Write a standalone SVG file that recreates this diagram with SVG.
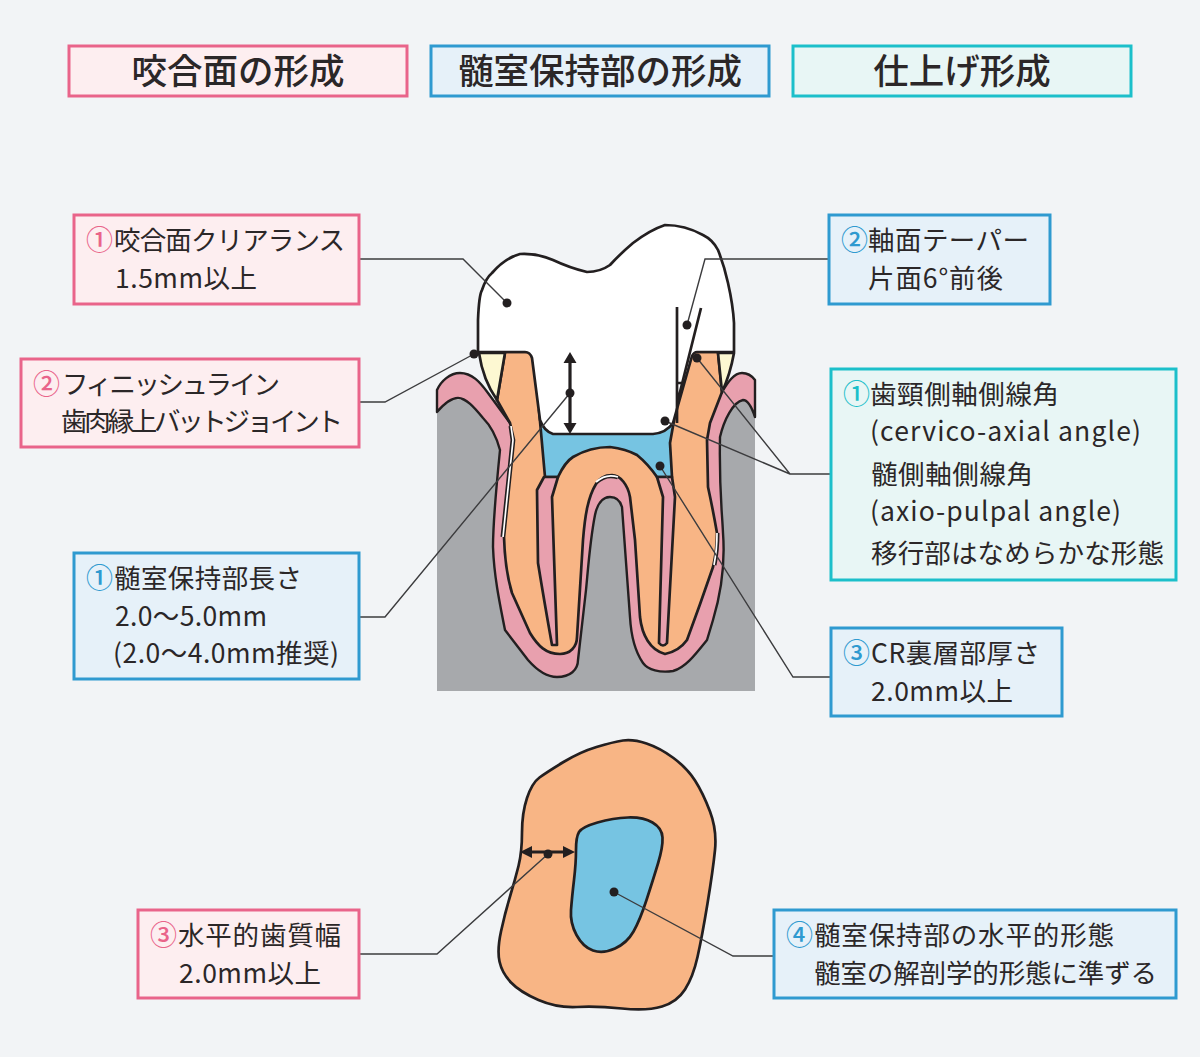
<svg xmlns="http://www.w3.org/2000/svg" width="1200" height="1057" viewBox="0 0 1200 1057">
<style>
text{font-family:"Noto Sans CJK JP","Noto Sans",sans-serif;fill:#2b2728}
.t{font-size:35.5px;font-weight:500;text-anchor:middle}
.l{font-size:26.5px}
.n{font-size:27px;font-weight:500}
.pk{fill:#e9648a}.bl{fill:#2f9ad0}.te{fill:#1cbfca}
.bp{fill:#fdeef0;stroke:#e9648a;stroke-width:3}
.bb{fill:#e6f1f9;stroke:#2f9ad0;stroke-width:3}
.bt{fill:#e8f6f5;stroke:#1cbfca;stroke-width:3}
.o{stroke:#231f20;stroke-width:2.7;stroke-linejoin:round;fill:none}
.ld{fill:none;stroke:#3c3c3e;stroke-width:1.4}
.dot{fill:#231f20}
</style>
<rect width="1200" height="1057" fill="#f2f4f6"/>
<g id="title-occlusal"><rect class="bp" x="69" y="46" width="338" height="50"/><text class="t" x="238" y="84">咬合面の形成</text></g>
<g id="title-pulp"><rect class="bb" x="431" y="46" width="338" height="50"/><text class="t" x="600" y="84">髄室保持部の形成</text></g>
<g id="title-finish"><rect class="bt" x="793" y="46" width="338" height="50"/><text class="t" x="962" y="84">仕上げ形成</text></g>

<g id="tooth-section">
<rect x="437" y="400" width="318" height="291" fill="#a7a9ac"/>
<path id="gum" d="M437,412 L437,390 C441,381 450,373 460,373 C472,373 480,382 488,393 L510,423 L700,423 L722,392 C728,382 734,373 742,373 C748,373 752,376 755,380 L755,417 C752,408 748,400 743,400 C733,402 724,420 720,437 C719,490 722,510 723,533 C725,560 722,590 713,620 L707,640 C695,655 685,668 673,671 C660,673 648,670 643,663 C634,650 631,635 630,617 L622,507 C620,500 616,497 610,497 C602,497 597,505 595,515 C590,540 588,570 586,590 L578,660 C578,670 570,677 557,677 C545,677 535,668 528,660 L505,630 C499,600 494,575 493,547 C493,520 497,480 500,450 C496,435 490,425 483,418 C474,407 466,398 458,398 C450,398 443,405 437,412Z" fill="#e8a0ae" stroke="#231f20" stroke-width="2.4" stroke-linejoin="round"/>
<path id="pdl-gap" fill="none" stroke="#231f20" stroke-width="5" d="M511,426 L513,440 Q508,490 503,537 M714,565 Q717,550 717,533 M596,482 Q606,473 618,477"/>
<path id="dentin" class="o" style="fill:#f8b585" d="M505,352 L497,400 L510,423 L514,440 Q509,490 504,537 Q505,570 512,593 L530,633 C538,646 546,654 560,654 C570,654 577,647 577,637 L583,540 C585,515 588,497 596,484 C600,477 606,475 612,475 C620,475 628,485 630,497 L635,540 L640,617 C642,635 650,650 665,654 C675,652 682,647 687,640 Q700,605 713,567 Q717,550 717,533 Q713,510 708,487 L707,440 L710,423 L722,392 L718,352Z"/>
<path fill="none" stroke="#fff" stroke-width="1.7" d="M511,426 L513,440 Q508,490 503,537 M714,565 Q717,550 717,533 M596,482 Q606,473 618,477"/>
<path id="pulp-chamber" class="o" style="fill:#76c4e2" d="M539,410 L545,477 L558,477 Q565,462 573,457 Q590,447 610,447 Q626,449 637,455 Q648,464 657,477 L672,477 L670,443 L675,415 L610,400Z"/>
<path id="pulp-left" class="o" style="fill:#e8a0ae" d="M544,477 L558,477 L552,497 L557,645 L552,645 Q544,600 538,563 L537,490Z"/>
<path id="pulp-right" class="o" style="fill:#e8a0ae" d="M657,477 L672,477 L675,497 L667,643 Q663,648 659,643 L663,497Z"/>
<path id="crown" class="o" style="fill:#ffffff" d="M478,352 L478,320 Q479,295 482,290 Q486,278 492,273 Q505,258 520,254 Q537,253 553,260 Q570,268 587,272 Q600,272 610,265 Q620,254 633,243 Q650,230 665,225 Q685,225 703,235 Q713,240 718,250 Q724,265 728,283 Q733,305 734,323 L734,352 L697,352 Q694,352 692,356 L673,423 Q666,433 653,434 L553,434 Q544,431 540,420 L532,358 Q530,352 525,352Z"/>
<path id="enamel-left" class="o" style="fill:#fdf8d2" d="M479,353 L505,353 L497,400 Q483,380 479,353Z"/>
<path id="enamel-right" class="o" style="fill:#fdf8d2" d="M718,353 L734,353 Q730,375 722,392Z"/>
<path class="o" d="M677,307 L677,423 M701,308 L678,400 M677,383 L684,383"/>
<path class="o" d="M570,360 L570,426" style="stroke-width:3.2"/>
<path class="dot" d="M570,352 L576.5,363 L563.5,363Z M570,434 L576.5,423 L563.5,423Z"/>
</g>

<g id="occlusal-section">
<path class="o" style="fill:#f8b585" d="M522,832.5 Q522,813 527,798 Q532,783 539.5,777.5 Q547,772 563.5,762 Q580,752 596.5,747 Q613,742 623,740.5 Q633,739 646.5,743.5 Q660,748 673.5,758 Q687,768 695,780.5 Q703,793 710,811.5 Q717,830 715,850 Q713,870 707.5,903.5 Q702,937 697.5,957 Q693,977 685,989.5 Q677,1002 662,1006.5 Q647,1011 622,1008.5 Q597,1006 577,1007 Q557,1008 538.5,1000 Q520,992 511,982.5 Q502,973 499.5,961.5 Q497,950 501,931.5 Q505,913 510,896.5 Q515,880 518.5,866 Q522,852 522,832.5Z"/>
<path class="o" style="fill:#76c4e2" d="M576,850 Q576,837 579,832 Q582,827 597.5,822.5 Q613,818 628,817.5 Q643,817 652.5,822.5 Q662,828 662.5,837.5 Q663,847 658,863.5 Q653,880 646.5,900 Q640,920 633.5,931.5 Q627,943 615,948.5 Q603,954 593,950.5 Q583,947 576.5,935 Q570,923 571,910 Q572,897 574,880 Q576,863 576,850Z"/>
<path class="o" d="M530,852 L567,852" style="stroke-width:3.2"/>
<path class="dot" d="M520,852 L532,846 L532,858Z M575,852 L563,846 L563,858Z"/>
</g>

<g id="connectors">
<path class="ld" d="M360,259 L463,259 L507,303"/>
<path class="ld" d="M360,402 L385,402 L474,354"/>
<path class="ld" d="M360,617 L385,617 L570,393"/>
<path class="ld" d="M828,259 L705,259 L687,325"/>
<path class="ld" d="M830,474 L790,474 L697,358 M790,474 L665,421"/>
<path class="ld" d="M830,677 L793,677 L660,466"/>
<path class="ld" d="M360,954 L437,954 L548,854"/>
<path class="ld" d="M773,956 L733,956 L614,892"/>
<g class="dot"><circle cx="507" cy="303" r="4.5"/><circle cx="474" cy="354" r="4.5"/><circle cx="570" cy="393" r="4.5"/><circle cx="687" cy="325" r="4.5"/><circle cx="697" cy="358" r="4.5"/><circle cx="665" cy="421" r="4.5"/><circle cx="660" cy="466" r="4.5"/><circle cx="548" cy="854" r="4.5"/><circle cx="614" cy="892" r="4.5"/></g>
</g>

<g id="label-clearance"><rect class="bp" x="74" y="215" width="285" height="89"/>
<text class="n pk" x="86" y="250">①</text><text class="l" x="114" y="250" textLength="231">咬合面クリアランス</text><text class="l" x="115" y="288" textLength="142">1.5mm以上</text></g>
<g id="label-finish-line"><rect class="bp" x="21" y="359" width="338" height="88"/>
<text class="n pk" x="33" y="394">②</text><text class="l" x="62" y="394" textLength="218">フィニッシュライン</text><text class="l" x="61" y="431" textLength="282">歯肉縁上バットジョイント</text></g>
<g id="label-length"><rect class="bb" x="74" y="553" width="285" height="126"/>
<text class="n bl" x="86" y="588">①</text><text class="l" x="114" y="588" textLength="188">髄室保持部長さ</text><text class="l" x="115" y="626" textLength="152">2.0〜5.0mm</text><text class="l" x="113" y="663" textLength="226">(2.0〜4.0mm推奨)</text></g>
<g id="label-taper"><rect class="bb" x="829" y="215" width="221" height="89"/>
<text class="n bl" x="841" y="250">②</text><text class="l" x="868" y="250" textLength="161">軸面テーパー</text><text class="l" x="868" y="288" textLength="135">片面6°前後</text></g>
<g id="label-angle"><rect class="bt" x="831" y="369" width="345" height="211"/>
<text class="n te" x="843" y="404">①</text><text class="l" x="870" y="404" textLength="189">歯頸側軸側線角</text><text class="l" x="870" y="441" textLength="271">(cervico-axial angle)</text><text class="l" x="871" y="484" textLength="162">髄側軸側線角</text><text class="l" x="870" y="521" textLength="251">(axio-pulpal angle)</text><text class="l" x="871" y="563" textLength="293">移行部はなめらかな形態</text></g>
<g id="label-cr"><rect class="bb" x="831" y="628" width="231" height="88"/>
<text class="n bl" x="843" y="663">③</text><text class="l" x="871" y="663" textLength="169">CR裏層部厚さ</text><text class="l" x="871" y="701" textLength="142">2.0mm以上</text></g>
<g id="label-width"><rect class="bp" x="138" y="910" width="221" height="88"/>
<text class="n pk" x="150" y="945">③</text><text class="l" x="178" y="945" textLength="163">水平的歯質幅</text><text class="l" x="179" y="983" textLength="142">2.0mm以上</text></g>
<g id="label-form"><rect class="bb" x="774" y="910" width="402" height="88"/>
<text class="n bl" x="786" y="945">④</text><text class="l" x="814" y="945" textLength="300">髄室保持部の水平的形態</text><text class="l" x="814" y="983" textLength="343">髄室の解剖学的形態に準ずる</text></g>
</svg>
